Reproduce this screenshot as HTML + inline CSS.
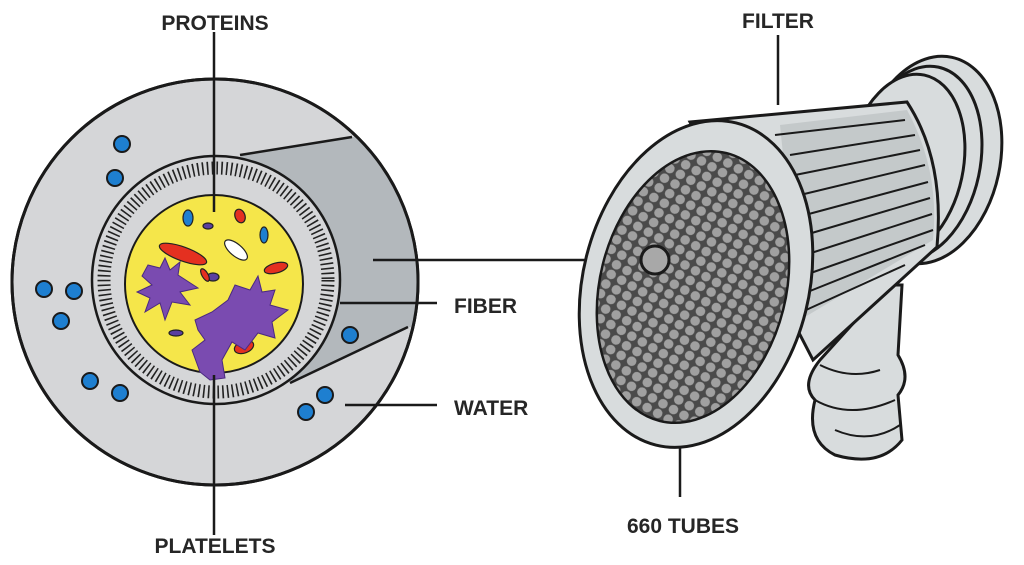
<!DOCTYPE html>
<html><head><style>
html,body{margin:0;padding:0;background:#fff;width:1024px;height:565px;overflow:hidden}
svg{display:block}
text{font-family:"Liberation Sans",sans-serif;font-weight:bold;fill:#262626;font-size:21px}
</style></head><body>
<svg width="1024" height="565" viewBox="0 0 1024 565" xmlns="http://www.w3.org/2000/svg">
<defs>
<clipPath id="outerC"><circle cx="215" cy="282" r="203"/></clipPath>
<pattern id="tubes" width="12" height="11" patternUnits="userSpaceOnUse" patternTransform="rotate(15)">
<rect width="12" height="11" fill="#4a4a4a"/>
<circle cx="6" cy="5.5" r="4.8" fill="#a0a0a0"/>
</pattern>
</defs>

<!-- LEFT: cross section -->
<circle cx="215" cy="282" r="203" fill="#d5d6d8" stroke="#1a1a1a" stroke-width="3"/>
<g clip-path="url(#outerC)">
<polygon points="240,155 352,137 430,140 430,327 408,327 290,383 330,300" fill="#b3b8bc"/>
</g>
<circle cx="215" cy="282" r="203" fill="none" stroke="#1a1a1a" stroke-width="3"/>
<line x1="240" y1="155" x2="352" y2="137" stroke="#1a1a1a" stroke-width="2.5"/>
<line x1="290" y1="383" x2="408" y2="327" stroke="#1a1a1a" stroke-width="2.5"/>
<circle cx="216" cy="280" r="124" fill="#d5d6d8" stroke="#1a1a1a" stroke-width="2.5"/>
<circle cx="216" cy="280" r="112" fill="none" stroke="#222" stroke-width="13" stroke-dasharray="1.6 3.2"/>
<circle cx="214" cy="284" r="89" fill="#f5e64a" stroke="#1a1a1a" stroke-width="2"/>
<g stroke="#222" stroke-width="1.2">
<ellipse cx="188" cy="218" rx="5" ry="8" fill="#1e7fd0"/>
<ellipse cx="208" cy="226" rx="5" ry="3" fill="#5a3fa0"/>
<ellipse cx="240" cy="216" rx="5" ry="7" fill="#e43020" transform="rotate(-20 240 216)"/>
<ellipse cx="264" cy="235" rx="4" ry="8" fill="#1e7fd0"/>
<ellipse cx="183" cy="254" rx="25" ry="7" fill="#e43020" transform="rotate(20 183 254)"/>
<ellipse cx="236" cy="250" rx="14" ry="6" fill="#fff" transform="rotate(40 236 250)"/>
<ellipse cx="276" cy="268" rx="12" ry="5" fill="#e43020" transform="rotate(-15 276 268)"/>
<ellipse cx="213" cy="277" rx="6" ry="4" fill="#5a3fa0"/>
<ellipse cx="205" cy="275" rx="3" ry="7" fill="#e43020" transform="rotate(-30 205 275)"/>
<ellipse cx="176" cy="333" rx="7" ry="3" fill="#5a3fa0"/>
<ellipse cx="244" cy="347" rx="10" ry="6" fill="#e43020" transform="rotate(-20 244 347)"/>
</g>
<g fill="#7a4bb0" stroke="#4a2a80" stroke-width="1">
<polygon points="148,265 160,268 165,258 170,270 180,262 178,275 198,288 180,292 190,305 172,302 165,320 160,303 145,312 150,298 137,292 152,285 142,276"/>
<polygon points="195,320 212,312 228,300 235,285 250,290 258,276 262,292 275,290 270,305 288,310 272,322 275,338 258,333 245,350 232,342 222,360 225,378 210,380 200,372 192,350 205,340 198,330"/>
</g>
<g fill="#1e7fd0" stroke="#1a1a1a" stroke-width="2">
<circle cx="122" cy="144" r="8"/><circle cx="115" cy="178" r="8"/>
<circle cx="44" cy="289" r="8"/><circle cx="74" cy="291" r="8"/><circle cx="61" cy="321" r="8"/>
<circle cx="90" cy="381" r="8"/><circle cx="120" cy="393" r="8"/>
<circle cx="350" cy="335" r="8"/><circle cx="325" cy="395" r="8"/><circle cx="306" cy="412" r="8"/>
</g>
<g stroke="#1a1a1a" stroke-width="2.5">
<line x1="214" y1="32" x2="214" y2="212"/>
<line x1="214" y1="375" x2="214" y2="535"/>
<line x1="373" y1="260" x2="642" y2="260"/>
<line x1="340" y1="303" x2="437" y2="303"/>
<line x1="345" y1="405" x2="437" y2="405"/>
<line x1="778" y1="35" x2="778" y2="105"/>
<line x1="680" y1="420" x2="680" y2="497"/>
</g>
<text x="215" y="30" text-anchor="middle">PROTEINS</text>
<text x="215" y="553" text-anchor="middle">PLATELETS</text>
<text x="454" y="313">FIBER</text>
<text x="454" y="415">WATER</text>
<text x="778" y="28" text-anchor="middle">FILTER</text>
<text x="683" y="533" text-anchor="middle">660 TUBES</text>

<!-- RIGHT: filter -->
<g stroke="#1a1a1a" stroke-width="3" fill="#d8dcdd">
<path d="M878,285 L902,285 L898,355 Q912,378 898,395 L902,440 Q880,468 835,455 Q805,440 815,400 Q800,385 820,360 L858,318 Z"/>
<path d="M820,365 Q850,380 880,370 M815,400 Q850,420 895,400 M835,430 Q870,445 900,425" fill="none" stroke-width="2"/>
<ellipse cx="930" cy="160" rx="70" ry="105" transform="rotate(12 930 160)"/>
<ellipse cx="918" cy="163" rx="62" ry="98" transform="rotate(12 918 163)"/>
<ellipse cx="905" cy="166" rx="58" ry="93" transform="rotate(12 905 166)"/>
<path d="M690,122 L907,102 Q945,160 937,247 L813,360 Z"/>
<path d="M780,125 L907,110 Q940,170 933,240 L800,320 Z" fill="#aeb2b4" stroke="none" opacity="0.45"/>
<g stroke-width="2">
<line x1="775" y1="135" x2="905" y2="120"/>
<line x1="790" y1="155" x2="915" y2="135"/>
<line x1="795" y1="175" x2="920" y2="150"/>
<line x1="800" y1="195" x2="925" y2="165"/>
<line x1="805" y1="215" x2="928" y2="182"/>
<line x1="805" y1="235" x2="930" y2="198"/>
<line x1="805" y1="255" x2="932" y2="214"/>
<line x1="805" y1="275" x2="933" y2="230"/>
<line x1="800" y1="295" x2="925" y2="245"/>
<line x1="795" y1="315" x2="905" y2="265"/>
</g>
<ellipse cx="696" cy="284" rx="113" ry="166" transform="rotate(14 696 284)"/>
</g>
<ellipse cx="693" cy="287" rx="93" ry="138" transform="rotate(14 693 287)" fill="url(#tubes)" stroke="#1a1a1a" stroke-width="2.5"/>
<circle cx="655" cy="260" r="14" fill="#a8a8a8" stroke="#1a1a1a" stroke-width="3"/>
</svg>
</body></html>
